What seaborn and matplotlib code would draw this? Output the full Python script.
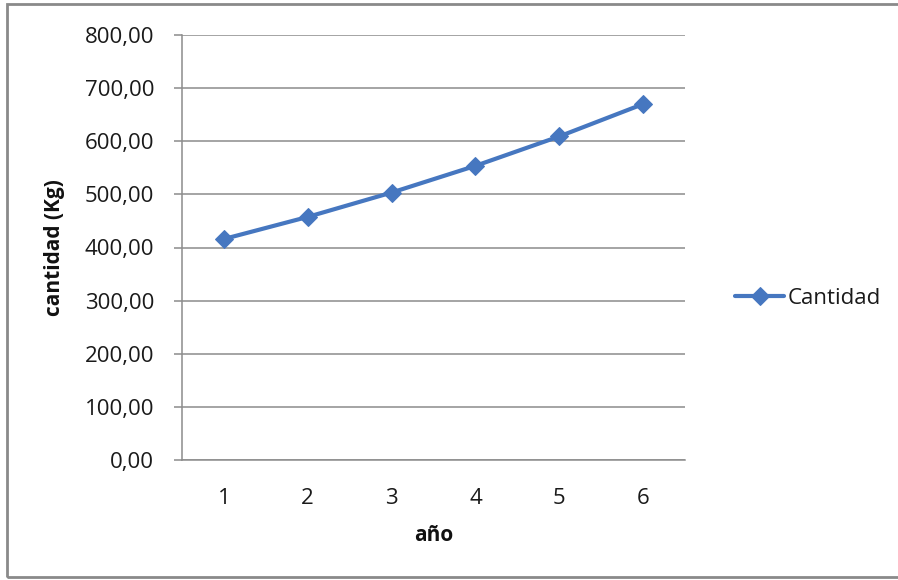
import matplotlib
matplotlib.use("Agg")
import matplotlib.pyplot as plt
import seaborn as sns
import pandas as pd
from matplotlib.patches import Rectangle
from matplotlib.ticker import FuncFormatter

# Yearly quantity series
anios = [1, 2, 3, 4, 5, 6]
cantidad = [416.0, 457.6, 503.4, 553.7, 609.1, 670.0]
serie = "Cantidad"

df = pd.DataFrame({"año": anios, "cantidad": cantidad, "serie": serie})

sns.set_theme(style="white")
plt.rcParams["font.family"] = ["Open Sans", "DejaVu Sans"]

fig = plt.figure(figsize=(8.98, 5.8), dpi=100)
ax = fig.add_axes([182 / 898, 1 - 460 / 580, (685 - 182) / 898, (460 - 35) / 580])

line_color = "#4677C0"
sns.lineplot(data=df, x="año", y="cantidad", hue="serie", palette=[line_color],
             marker="D", markersize=9, linewidth=3, markeredgecolor=line_color,
             ax=ax, legend=True)

ax.set_xlim(0.5, 6.5)
ax.set_ylim(0, 800)
ax.set_yticks(range(0, 801, 100))
ax.set_xticks(anios)
ax.yaxis.set_major_formatter(FuncFormatter(lambda v, _: f"{v:.2f}".replace(".", ",")))
ax.grid(axis="y", color="#8c8c8c", linewidth=1.1)
ax.set_axisbelow(True)

for side in ["top", "right"]:
    ax.spines[side].set_visible(False)
ax.spines["left"].set_color("#8c8c8c")
ax.spines["bottom"].set_color("#8c8c8c")
ax.spines["left"].set_linewidth(1.1)
ax.spines["bottom"].set_linewidth(1.1)

ax.tick_params(axis="y", length=6, width=1.1, color="#8c8c8c", labelsize=16,
               labelcolor="#1a1a1a", pad=14, left=True)
ax.tick_params(axis="x", length=0, labelsize=16, labelcolor="#1a1a1a", pad=20)

ax.set_xlabel("año", fontsize=15, fontweight="bold", labelpad=12, color="#111111")
ax.set_ylabel("cantidad (Kg)", fontsize=15, fontweight="bold", labelpad=14, color="#111111")

leg = ax.legend(loc="center left", bbox_to_anchor=(1.06, 0.38), frameon=False,
                fontsize=16, handlelength=2.2, handletextpad=0.15)
for t in leg.get_texts():
    t.set_color("#1a1a1a")

# Chart-area frame
fig.patches.append(Rectangle((7 / 898, 3 / 580), 900 / 898, 573 / 580,
                             transform=fig.transFigure, fill=False,
                             edgecolor="#8a8a8a", linewidth=2))

fig.savefig("out.png", dpi=100)
